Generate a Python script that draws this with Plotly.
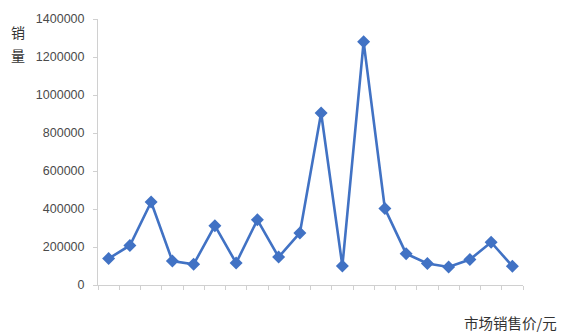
import plotly.graph_objects as go

# Sales volume at each market price level
price_levels = [str(i) for i in range(1, 21)]
sales_volume = [139000, 208000, 437000, 126000, 109000, 312000, 116000, 343000,
                147000, 274000, 905000, 100000, 1280000, 402000, 165000, 113000,
                95000, 134000, 225000, 99000]

y_ticks = [0, 200000, 400000, 600000, 800000, 1000000, 1200000, 1400000]
y_labels = [str(v) for v in y_ticks]

line_blue = "#4172C4"
axis_grey = "#D0D0D0"
label_font = dict(family="Liberation Sans, Arial, sans-serif", size=12.5, color="#4A4A4A")
cjk_font = dict(family="Noto Sans CJK SC, sans-serif", size=14, color="#333333")

fig = go.Figure(
    go.Scatter(
        x=price_levels,
        y=sales_volume,
        mode="lines+markers",
        line=dict(color=line_blue, width=2.6),
        marker=dict(symbol="diamond", size=10, color=line_blue),
    )
)

fig.update_layout(
    width=565,
    height=333,
    margin=dict(l=98, r=42, t=16, b=48),
    paper_bgcolor="white",
    plot_bgcolor="white",
    showlegend=False,
    xaxis=dict(
        type="category",
        range=[-0.5, 19.5],
        showticklabels=False,
        ticks="outside",
        tickson="boundaries",
        ticklen=4,
        tickcolor=axis_grey,
        showline=True,
        linecolor=axis_grey,
        linewidth=1,
        showgrid=False,
        zeroline=False,
    ),
    yaxis=dict(
        range=[0, 1400000],
        tickvals=y_ticks,
        ticktext=y_labels,
        ticks="outside",
        ticklen=4,
        tickcolor=axis_grey,
        showline=True,
        linecolor=axis_grey,
        linewidth=1,
        showgrid=False,
        zeroline=False,
        tickfont=label_font,
        ticklabelstandoff=6,
    ),
    annotations=[
        # vertical axis title, one character per row
        dict(text="销", xref="paper", yref="paper", x=-0.188, y=(285 - 29) / 269,
             xanchor="center", yanchor="middle", showarrow=False, font=cjk_font),
        dict(text="量", xref="paper", yref="paper", x=-0.188, y=(285 - 52) / 269,
             xanchor="center", yanchor="middle", showarrow=False, font=cjk_font),
        dict(text="市场销售价/元", xref="paper", yref="paper", x=1.084, y=-0.141,
             xanchor="right", yanchor="middle", showarrow=False,
             font=dict(family="Noto Sans CJK SC, sans-serif", size=14.5, color="#333333")),
    ],
)

fig.write_html("out.html")
